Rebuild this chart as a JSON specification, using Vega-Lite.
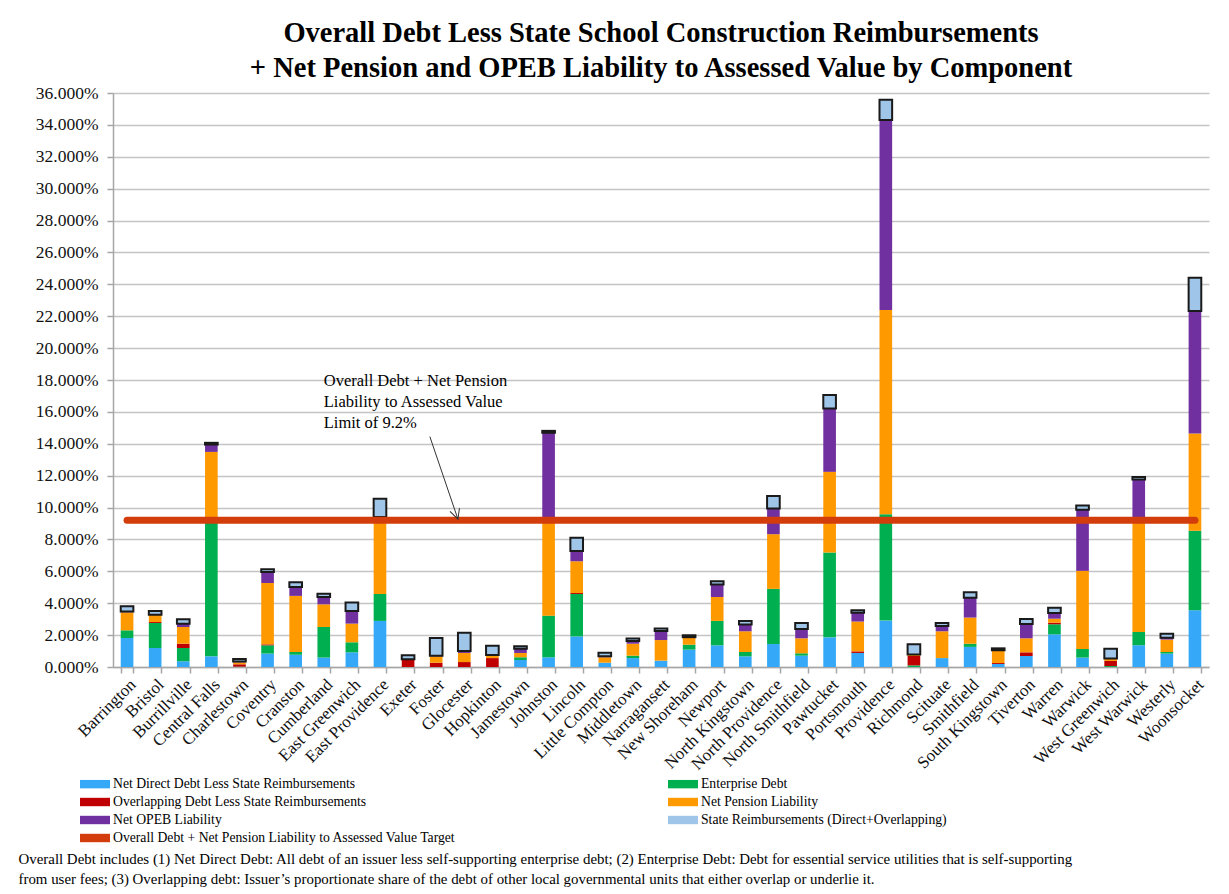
{
  "$schema": "https://vega.github.io/schema/vega-lite/v6.json",
  "width": 1096,
  "height": 574,
  "autosize": {"type": "none"},
  "padding": {"left": 113, "top": 93, "right": 20, "bottom": 227},
  "background": "white",
  "config": {
    "font": "Liberation Serif",
    "view": {"stroke": null},
    "axis": {"labelFont": "Liberation Serif", "titleFont": "Liberation Serif", "labelColor": "#111", "domainColor": "#a6a6a6", "domainWidth": 1.5, "tickColor": "#a6a6a6", "tickWidth": 1.5, "gridColor": "#c4c4c4", "gridWidth": 1.5},
    "axisY": {"tickCount": 20}
  },
  "title": {
    "text": ["Overall Debt Less State School Construction Reimbursements", "+ Net Pension and OPEB Liability to Assessed Value by Component"],
    "font": "Liberation Serif",
    "fontSize": 28.5,
    "fontWeight": "bold",
    "color": "black",
    "anchor": "middle",
    "lineHeight": 35,
    "offset": 2
  },
  "datasets": {
    "components": [
      {"component": "direct", "rank": 1},
      {"component": "enterprise", "rank": 2},
      {"component": "overlapping", "rank": 3},
      {"component": "pension", "rank": 4},
      {"component": "opeb", "rank": 5},
      {"component": "reimb", "rank": 6}
    ]
  },
  "data": {
    "values": [
      {"town": "Barrington", "direct": 1.82, "enterprise": 0.48, "overlapping": 0, "pension": 1.13, "opeb": 0.05, "reimb": 0.33},
      {"town": "Bristol", "direct": 1.19, "enterprise": 1.57, "overlapping": 0.06, "pension": 0.44, "opeb": 0.02, "reimb": 0.23},
      {"town": "Burrillville", "direct": 0.36, "enterprise": 0.83, "overlapping": 0.27, "pension": 1.05, "opeb": 0.21, "reimb": 0.27},
      {"town": "Central Falls", "direct": 0.67, "enterprise": 8.37, "overlapping": 0, "pension": 4.45, "opeb": 0.46, "reimb": 0.11},
      {"town": "Charlestown", "direct": 0, "enterprise": 0.02, "overlapping": 0.15, "pension": 0.12, "opeb": 0.05, "reimb": 0.16},
      {"town": "Coventry", "direct": 0.84, "enterprise": 0.52, "overlapping": 0.06, "pension": 3.85, "opeb": 0.69, "reimb": 0.17},
      {"town": "Cranston", "direct": 0.77, "enterprise": 0.17, "overlapping": 0, "pension": 3.52, "opeb": 0.56, "reimb": 0.29},
      {"town": "Cumberland", "direct": 0.59, "enterprise": 1.92, "overlapping": 0, "pension": 1.42, "opeb": 0.46, "reimb": 0.21},
      {"town": "East Greenwich", "direct": 0.92, "enterprise": 0.63, "overlapping": 0, "pension": 1.17, "opeb": 0.79, "reimb": 0.53},
      {"town": "East Providence", "direct": 2.89, "enterprise": 1.69, "overlapping": 0, "pension": 4.73, "opeb": 0.1, "reimb": 1.15},
      {"town": "Exeter", "direct": 0, "enterprise": 0, "overlapping": 0.46, "pension": 0.03, "opeb": 0, "reimb": 0.24},
      {"town": "Foster", "direct": 0, "enterprise": 0, "overlapping": 0.27, "pension": 0.4, "opeb": 0.03, "reimb": 1.12},
      {"town": "Glocester", "direct": 0, "enterprise": 0, "overlapping": 0.31, "pension": 0.57, "opeb": 0.12, "reimb": 1.15},
      {"town": "Hopkinton", "direct": 0, "enterprise": 0, "overlapping": 0.56, "pension": 0.19, "opeb": 0, "reimb": 0.59},
      {"town": "Jamestown", "direct": 0.44, "enterprise": 0.17, "overlapping": 0, "pension": 0.27, "opeb": 0.27, "reimb": 0.15},
      {"town": "Johnston", "direct": 0.61, "enterprise": 2.61, "overlapping": 0, "pension": 5.98, "opeb": 5.49, "reimb": 0.12},
      {"town": "Lincoln", "direct": 1.92, "enterprise": 2.66, "overlapping": 0.06, "pension": 1.99, "opeb": 0.65, "reimb": 0.82},
      {"town": "Little Compton", "direct": 0.27, "enterprise": 0, "overlapping": 0, "pension": 0.34, "opeb": 0.06, "reimb": 0.23},
      {"town": "Middletown", "direct": 0.56, "enterprise": 0.15, "overlapping": 0, "pension": 0.75, "opeb": 0.17, "reimb": 0.15},
      {"town": "Narragansett", "direct": 0.4, "enterprise": 0, "overlapping": 0, "pension": 1.29, "opeb": 0.57, "reimb": 0.15},
      {"town": "New Shoreham", "direct": 1.09, "enterprise": 0.31, "overlapping": 0, "pension": 0.44, "opeb": 0.03, "reimb": 0.12},
      {"town": "Newport", "direct": 1.36, "enterprise": 1.53, "overlapping": 0, "pension": 1.5, "opeb": 0.78, "reimb": 0.21},
      {"town": "North Kingstown", "direct": 0.67, "enterprise": 0.27, "overlapping": 0, "pension": 1.3, "opeb": 0.42, "reimb": 0.23},
      {"town": "North Providence", "direct": 1.44, "enterprise": 3.46, "overlapping": 0, "pension": 3.43, "opeb": 1.61, "reimb": 0.79},
      {"town": "North Smithfield", "direct": 0.71, "enterprise": 0.15, "overlapping": 0, "pension": 0.94, "opeb": 0.58, "reimb": 0.38},
      {"town": "Pawtucket", "direct": 1.86, "enterprise": 5.32, "overlapping": 0, "pension": 5.06, "opeb": 3.98, "reimb": 0.84},
      {"town": "Portsmouth", "direct": 0.88, "enterprise": 0, "overlapping": 0.1, "pension": 1.87, "opeb": 0.56, "reimb": 0.15},
      {"town": "Providence", "direct": 2.91, "enterprise": 6.67, "overlapping": 0, "pension": 12.81, "opeb": 11.92, "reimb": 1.26},
      {"town": "Richmond", "direct": 0, "enterprise": 0.1, "overlapping": 0.59, "pension": 0.1, "opeb": 0, "reimb": 0.63},
      {"town": "Scituate", "direct": 0.56, "enterprise": 0, "overlapping": 0, "pension": 1.68, "opeb": 0.33, "reimb": 0.19},
      {"town": "Smithfield", "direct": 1.26, "enterprise": 0.2, "overlapping": 0, "pension": 1.64, "opeb": 1.25, "reimb": 0.34},
      {"town": "South Kingstown", "direct": 0.19, "enterprise": 0, "overlapping": 0.06, "pension": 0.8, "opeb": 0, "reimb": 0.12},
      {"town": "Tiverton", "direct": 0.69, "enterprise": 0, "overlapping": 0.23, "pension": 0.88, "opeb": 0.9, "reimb": 0.31},
      {"town": "Warren", "direct": 2.05, "enterprise": 0.63, "overlapping": 0.1, "pension": 0.25, "opeb": 0.36, "reimb": 0.33},
      {"town": "Warwick", "direct": 0.59, "enterprise": 0.54, "overlapping": 0, "pension": 4.9, "opeb": 3.84, "reimb": 0.26},
      {"town": "West Greenwich", "direct": 0, "enterprise": 0.06, "overlapping": 0.32, "pension": 0.16, "opeb": 0, "reimb": 0.61},
      {"town": "West Warwick", "direct": 1.36, "enterprise": 0.84, "overlapping": 0, "pension": 7.17, "opeb": 2.39, "reimb": 0.16},
      {"town": "Westerly", "direct": 0.84, "enterprise": 0.1, "overlapping": 0, "pension": 0.78, "opeb": 0.12, "reimb": 0.25},
      {"town": "Woonsocket", "direct": 3.56, "enterprise": 4.98, "overlapping": 0, "pension": 6.1, "opeb": 7.69, "reimb": 2.09}
    ]
  },
  "encoding": {
    "x": {
      "field": "town", "type": "nominal", "sort": null,
      "scale": {"paddingInner": 0.55, "paddingOuter": 0.275},
      "axis": {
        "labelAngle": -45, "labelFontSize": 17, "labelPadding": 3, "tickBand": "extent", "tickSize": 6, "grid": false,
        "labelLimit": 200, "labelOverlap": false,
        "title": ["Overall Debt includes (1) Net Direct Debt: All debt of an issuer less self-supporting enterprise debt; (2)  Enterprise Debt: Debt for essential service utilities  that is self-supporting", "from user fees; (3) Overlapping debt: Issuer\u2019s proportionate share of the debt of other local governmental units that either overlap or underlie it."],
        "titleFontSize": 14.9, "titleFontWeight": "normal", "titleColor": "black", "titleAnchor": "start", "titleAlign": "left", "titleBaseline": "alphabetic", "titleLineHeight": 20, "titleX": -95, "titleY": 196
      }
    }
  },
  "layer": [
    {
      "transform": [
        {"fold": ["direct", "enterprise", "overlapping", "pension", "opeb", "reimb"], "as": ["component", "value"]},
        {"lookup": "component", "from": {"data": {"name": "components"}, "key": "component", "fields": ["rank"]}}
      ],
      "mark": {"type": "bar"},
      "encoding": {
        "y": {
          "field": "value", "type": "quantitative", "stack": "zero",
          "scale": {"domain": [0, 36], "nice": false},
          "axis": {"values": [0, 2, 4, 6, 8, 10, 12, 14, 16, 18, 20, 22, 24, 26, 28, 30, 32, 34, 36], "tickCount": 20, "labelOverlap": false, "labelExpr": "format(datum.value, '.3f') + '%'", "labelFontSize": 17.5, "labelPadding": 9, "tickSize": 6, "title": null, "grid": true}
        },
        "order": {"field": "rank", "type": "quantitative", "sort": "ascending"},
        "color": {
          "field": "component", "type": "nominal",
          "scale": {
            "domain": ["direct", "overlapping", "opeb", "target", "enterprise", "pension", "reimb"],
            "range": ["#35a9f7", "#c00000", "#7030a0", "#d33c0b", "#00b050", "#ff9900", "#9fc5e8"]
          },
          "legend": {
            "orient": "none", "legendX": -28, "legendY": 681, "columns": 2, "title": null,
            "symbolType": "M-1.5,-0.42H1.5V0.42H-1.5Z", "symbolSize": 400, "symbolStrokeWidth": 0,
            "labelFont": "Liberation Serif", "labelFontSize": 13.7, "labelColor": "black", "labelLimit": 600, "labelOffset": 8,
            "columnPadding": 212, "rowPadding": 1,
            "labelExpr": "({'direct': 'Net Direct Debt Less State Reimbursements', 'enterprise': 'Enterprise Debt', 'overlapping': 'Overlapping Debt Less State Reimbursements', 'pension': 'Net Pension Liability', 'opeb': 'Net OPEB Liability', 'reimb': 'State Reimbursements (Direct+Overlapping)', 'target': 'Overall Debt + Net Pension Liability to Assessed Value Target'})[datum.label]",
            "encode": {"symbols": {"update": {"stroke": [{"test": "datum.value === 'reimb'", "value": "#1a1a1a"}, {"value": "transparent"}], "strokeWidth": {"value": 1.5}}}}
          }
        },
        "stroke": {"condition": {"test": "datum.component === 'reimb'", "value": "#1a1a1a"}, "value": "transparent"},
        "strokeWidth": {"condition": {"test": "datum.component === 'reimb'", "value": 2}, "value": 0}
      }
    },
    {
      "mark": {"type": "line", "strokeWidth": 7, "strokeCap": "round"},
      "encoding": {
        "y": {"datum": 9.2},
        "color": {"datum": "target"}
      }
    },
    {
      "data": {"values": [{"note": "limit"}]},
      "mark": {"type": "text", "align": "left", "baseline": "alphabetic", "fontSize": 16.5, "lineHeight": 21, "font": "Liberation Serif", "color": "black"},
      "encoding": {
        "x": {"datum": "Cumberland"},
        "y": {"datum": 17.6},
        "text": {"value": ["Overall Debt + Net Pension", "Liability to Assessed Value", "Limit of 9.2%"]}
      }
    },
    {
      "data": {"values": [{"note": "arrow"}]},
      "mark": {"type": "rule", "color": "#333", "strokeWidth": 1},
      "encoding": {
        "x": {"datum": "Foster", "bandPosition": 0},
        "x2": {"datum": "Glocester", "bandPosition": 0},
        "y": {"datum": 14.45},
        "y2": {"datum": 9.27}
      }
    },
    {
      "data": {"values": [{"note": "arrowhead"}]},
      "mark": {"type": "point", "shape": "M-0.5,-1L0,0L0.5,-1", "size": 400, "filled": false, "stroke": "#333", "strokeWidth": 1, "angle": 341, "opacity": 1},
      "encoding": {
        "x": {"datum": "Glocester", "bandPosition": 0},
        "y": {"datum": 9.27}
      }
    }
  ]
}
